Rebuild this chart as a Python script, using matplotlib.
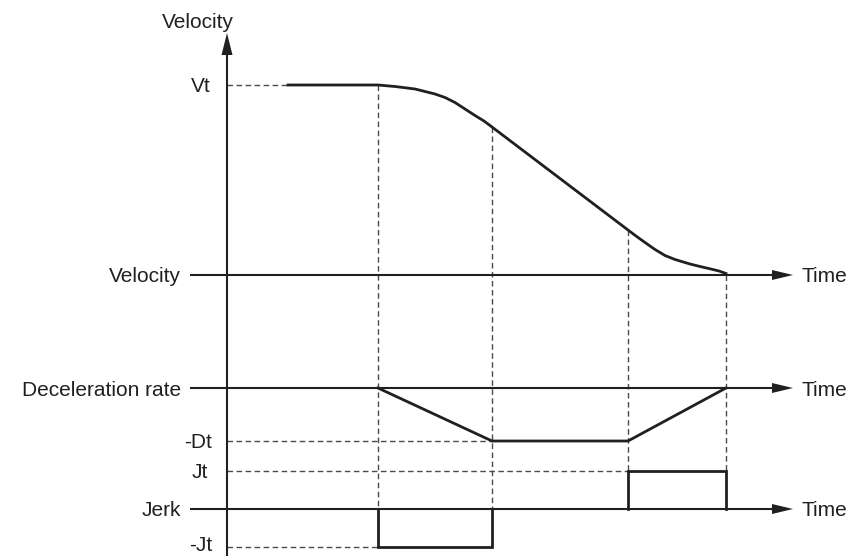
import matplotlib.pyplot as plt

# diagram coordinates (pixels of the original drawing, y grows downward)
axis_x = 227
axis_top = 33
row_velocity = 275
row_decel = 388
row_jerk = 509
axis_start = 190
axis_end = 793

t_marks = [378, 492, 628, 726]

level_vt = 85
level_dt = 441
level_jt = 471
level_mjt = 547

# velocity profile
vel_x = [288, 378, 395, 415, 435, 445, 455, 465, 475, 484, 492,
         628, 636, 645, 655, 665, 675, 690, 700, 710, 719, 726]
vel_y = [85, 85, 86.5, 89, 94, 97.5, 102.5, 109, 115.5, 121, 127,
         230, 236, 242.5, 249.5, 255.5, 259.5, 264, 266.5, 268.8, 271, 273.5]

# deceleration profile
dec_x = [378, 492, 628, 726]
dec_y = [388, 441, 441, 388]

# jerk pulses
jerk_x = [378, 378, 492, 492]
jerk_y = [509, 547, 547, 509]
jerk2_x = [628, 628, 726, 726]
jerk2_y = [509, 471, 471, 509]

ink = '#231f20'
dash_col = '#4a4a4a'

plt.rcParams['font.family'] = ['Liberation Sans', 'DejaVu Sans']

fig = plt.figure(figsize=(8.5, 5.56), dpi=100)
ax = fig.add_axes([0, 0, 1, 1])
ax.set_xlim(0, 850)
ax.set_ylim(556, 0)
ax.axis('off')

dash_kw = dict(color=dash_col, lw=1.0, dashes=(4, 2.5), zorder=1)

# guide lines
ax.plot([axis_x, 288], [level_vt, level_vt], **dash_kw)
ax.plot([axis_x, t_marks[1]], [level_dt, level_dt], **dash_kw)
ax.plot([axis_x, t_marks[2]], [level_jt, level_jt], **dash_kw)
ax.plot([axis_x, t_marks[0]], [level_mjt, level_mjt], **dash_kw)
ax.plot([t_marks[0], t_marks[0]], [level_vt, level_mjt], **dash_kw)
ax.plot([t_marks[1], t_marks[1]], [127, row_jerk], **dash_kw)
ax.plot([t_marks[2], t_marks[2]], [230, level_jt], **dash_kw)
ax.plot([t_marks[3], t_marks[3]], [row_velocity, level_jt], **dash_kw)

# axes
axis_kw = dict(color=ink, lw=1.5, solid_capstyle='butt', zorder=2)
ax.plot([axis_x, axis_x], [556, axis_top + 20], **axis_kw)
ax.fill([axis_x - 5.5, axis_x + 5.5, axis_x], [axis_top + 22, axis_top + 22, axis_top],
        color=ink, lw=0, zorder=3)
for row in [row_velocity, row_decel, row_jerk]:
    ax.plot([axis_start, axis_end - 20], [row, row], **axis_kw)
    ax.fill([axis_end - 21, axis_end - 21, axis_end], [row - 5, row + 5, row],
            color=ink, lw=0, zorder=3)
    ax.text(802, row + 7.5, 'Time', fontsize=15, ha='left', va='baseline', color=ink)

# profiles
prof_kw = dict(color=ink, lw=2.0, solid_joinstyle='round', zorder=4)
ax.plot(vel_x, vel_y, **prof_kw)
ax.plot(dec_x, dec_y, **dict(prof_kw, solid_joinstyle='miter'))
ax.plot(jerk_x, jerk_y, **dict(prof_kw, solid_joinstyle='miter'))
ax.plot(jerk2_x, jerk2_y, **dict(prof_kw, solid_joinstyle='miter'))

# labels
lab = dict(fontsize=15, va='baseline', color=ink)
ax.text(198, 28, 'Velocity', ha='center', **lab)
ax.text(211, level_vt + 7.5, 'Vt', ha='right', **lab)
ax.text(181, row_velocity + 7.5, 'Velocity', ha='right', **lab)
ax.text(181, row_decel + 7.5, 'Deceleration rate', ha='right', **lab)
ax.text(212, level_dt + 7.5, '-Dt', ha='right', **lab)
ax.text(208, level_jt + 7.5, 'Jt', ha='right', **lab)
ax.text(181, row_jerk + 7.5, 'Jerk', ha='right', **lab)
ax.text(212, 555, '-Jt', ha='right', fontsize=15, va='bottom', color=ink)

fig.savefig('out.png', dpi=100)
